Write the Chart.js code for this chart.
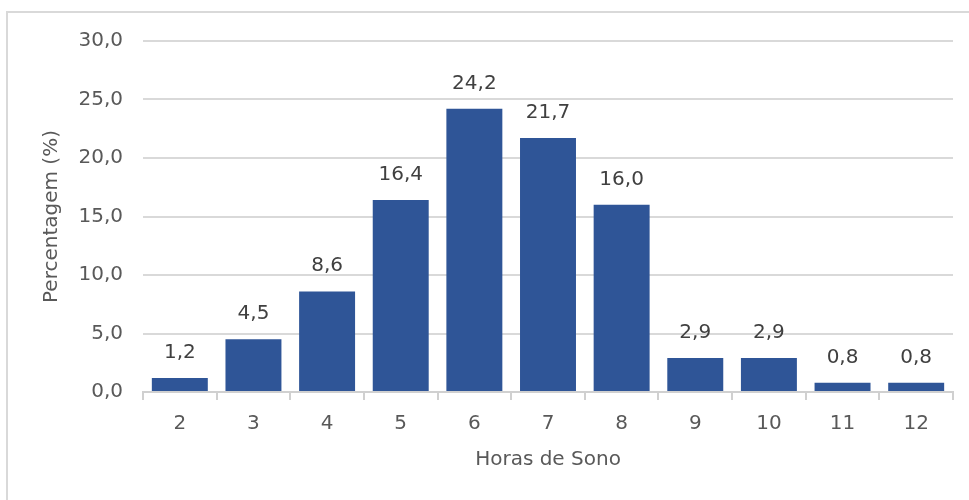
<!DOCTYPE html>
<html>
<head>
<meta charset="utf-8">
<script src="https://cdn.jsdelivr.net/npm/chart.js@4/dist/chart.umd.min.js"></script>
<style>
  html, body { margin: 0; padding: 0; background: #ffffff; overflow: hidden; }
  #wrap { position: relative; width: 969px; height: 500px; }
  #frame { position: absolute; left: 6px; top: 11px; width: 1000px; height: 600px;
           border: 2px solid #d9d9d9; box-sizing: border-box; }
  canvas { position: absolute; left: 0; top: 0; }
</style>
</head>
<body>
<div id="wrap">
  <div id="frame"></div>
  <canvas id="chart" width="969" height="500"></canvas>
</div>
<script>
// Distribuição das horas de sono (%)
const categories = ['2', '3', '4', '5', '6', '7', '8', '9', '10', '11', '12'];
const percentages = [1.2, 4.5, 8.6, 16.4, 24.2, 21.7, 16.0, 2.9, 2.9, 0.8, 0.8];
const yTicks = [0, 5, 10, 15, 20, 25, 30];

const FONT = "'DejaVu Sans', Verdana, sans-serif";
const fmt = v => v.toFixed(1).replace('.', ',');

// Writes each bar's value above it
const valueLabels = {
  id: 'valueLabels',
  afterDatasetsDraw(chart) {
    const ctx = chart.ctx;
    const meta = chart.getDatasetMeta(0);
    ctx.save();
    ctx.font = '20px ' + FONT;
    ctx.fillStyle = '#404040';
    ctx.textAlign = 'center';
    ctx.textBaseline = 'alphabetic';
    meta.data.forEach((bar, i) => {
      ctx.fillText(fmt(chart.data.datasets[0].data[i]), bar.x, bar.y - 20);
    });
    ctx.restore();
  }
};

new Chart(document.getElementById('chart'), {
  type: 'bar',
  data: {
    labels: categories,
    datasets: [{
      data: percentages,
      backgroundColor: '#2f5597',
      borderWidth: 0,
      categoryPercentage: 1.0,
      barPercentage: 0.76
    }]
  },
  options: {
    responsive: false,
    animation: false,
    layout: { padding: { left: 0, right: 16, top: 41, bottom: 0 } },
    plugins: { legend: { display: false }, tooltip: { enabled: false } },
    scales: {
      x: {
        afterFit: s => { s.height = 108; },
        grid: { offset: true, drawOnChartArea: false, drawTicks: true, tickLength: 8,
                color: '#d0d0d0', lineWidth: 2 },
        border: { display: true, color: '#d0d0d0', width: 2 },
        ticks: { color: '#595959', font: { family: FONT, size: 20 }, padding: 12 },
        title: { display: true, text: 'Horas de Sono', color: '#595959',
                 font: { family: FONT, size: 20 }, padding: { top: 0, bottom: 28 } }
      },
      y: {
        min: 0, max: 30,
        afterFit: s => { s.width = 143; },
        afterBuildTicks: s => { s.ticks = yTicks.map(v => ({ value: v })); },
        grid: { color: '#d9d9d9', lineWidth: 2, drawTicks: false },
        border: { display: false },
        ticks: { color: '#595959', font: { family: FONT, size: 20 }, padding: 20,
                 callback: v => fmt(v) },
        title: { display: true, text: 'Percentagem (%)', color: '#595959',
                 font: { family: FONT, size: 20 }, padding: { top: 40, bottom: 0 } }
      }
    }
  },
  plugins: [valueLabels]
});
</script>
</body>
</html>
